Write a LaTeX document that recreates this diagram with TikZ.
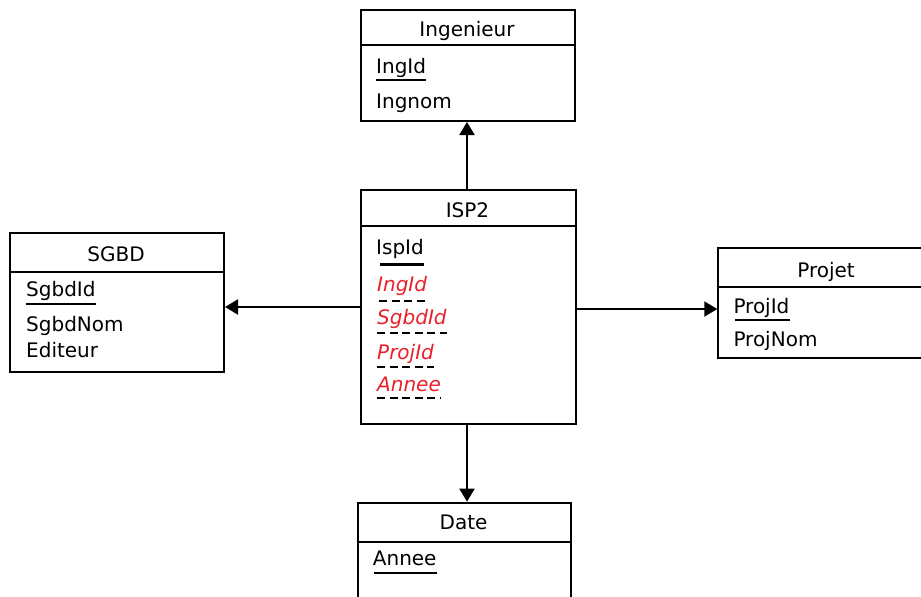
\documentclass[tikz,border=0pt]{standalone}
\usepackage{fontspec}
\setmainfont{DejaVu Sans}
\usepackage{tikz}
\usetikzlibrary{arrows.meta}
\definecolor{fkred}{RGB}{232,32,42}

\begin{document}
\begin{tikzpicture} [
        x = 1pt, y = -1pt,
        entity/.style = { draw, line width = 2pt, anchor = north west, inner sep = 0, minimum width = 214pt },
        divider/.style = { line width = 2pt },
        title/.style = { anchor = base, inner sep = 0, font = \fontsize{20}{24}\selectfont },
        attr/.style = { anchor = base west, inner sep = 0, font = \fontsize{20}{24}\selectfont },
        fkey/.style = { attr, text = fkred, font = \fontsize{20}{24}\selectfont\itshape },
        pkline/.style = { line width = 2pt },
        fkline/.style = { line width = 2pt, dash pattern = on 8pt off 4.5pt },
        link/.style = { line width = 2pt, -{Triangle[length = 13pt, width = 15pt]} }
        ]
        \useasboundingbox (0,0) rectangle (921,597);

        % Ingenieur
        \node [entity, minimum height = 111pt] (ing) at (360,9) {};
        \draw [divider] (ing.west |- 0,45) -- (ing.east |- 0,45);
        \node [title] (ingT) at (467,36.5) {Ingenieur};
        \node [attr] (ingId) at (376,73.3) {IngId};
        \node [attr] (ingNom) at (376,108) {Ingnom};
        \draw [pkline] ([yshift=-7pt]ingId.base west) -- ([yshift=-7pt]ingId.base east);

        % ISP2
        \node [entity, minimum height = 234pt, minimum width = 215pt] (isp) at (360,189) {};
        \draw [divider] (isp.west |- 0,226) -- (isp.east |- 0,226);
        \node [title] (ispT) at (467.5,217) {ISP2};
        \node [attr] (ispId) at (376,254) {IspId};
        \node [fkey] (ispIng) at (377,291) {IngId};
        \node [fkey] (ispSgbd) at (377,324.3) {SgbdId};
        \node [fkey] (ispProj) at (377,359) {ProjId};
        \node [fkey] (ispAnnee) at (377,391.7) {Annee};
        \draw [pkline, line width = 3pt] ([yshift=-10pt]ispId.base west) ++(4,0) -- ([yshift=-10pt]ispId.base east);
        \draw [fkline] ([yshift=-9.7pt]ispIng.base west) ++(2,0) -- ([yshift=-9.7pt]ispIng.base east);
        \draw [fkline] ([yshift=-9pt]ispSgbd.base west) -- ([yshift=-9pt]ispSgbd.base east);
        \draw [fkline] ([yshift=-7.7pt]ispProj.base west) -- ([yshift=-7.7pt]ispProj.base east);
        \draw [fkline] ([yshift=-6.7pt]ispAnnee.base west) -- ([yshift=-6.7pt]ispAnnee.base east);

        % SGBD
        \node [entity, minimum height = 139pt] (sgbd) at (9,232.3) {};
        \draw [divider] (sgbd.west |- 0,271.7) -- (sgbd.east |- 0,271.7);
        \node [title] (sgbdT) at (116,261) {SGBD};
        \node [attr] (sgbdId) at (26,296.7) {SgbdId};
        \node [attr] (sgbdNom) at (26,331.7) {SgbdNom};
        \node [attr] (sgbdEd) at (26,357.3) {Editeur};
        \draw [pkline] ([yshift=-7.6pt]sgbdId.base west) -- ([yshift=-7.6pt]sgbdId.base east);

        % Projet
        \node [entity, minimum height = 110pt] (proj) at (717.3,247.3) {};
        \draw [divider] (proj.west |- 0,287.3) -- (proj.east |- 0,287.3);
        \node [title] (projT) at (826,277) {Projet};
        \node [attr] (projId) at (733.3,313.3) {ProjId};
        \node [attr] (projNom) at (733.3,346) {ProjNom};
        \draw [pkline] ([yshift=-6.7pt]projId.base west) ++(2,0) -- ([yshift=-6.7pt]projId.base east);

        % Date
        \node [entity, minimum height = 100pt, minimum width = 213pt] (date) at (357,501.7) {};
        \draw [divider] (date.west |- 0,541.7) -- (date.east |- 0,541.7);
        \node [title] (dateT) at (463.5,529) {Date};
        \node [attr] (dateAnnee) at (372.7,565) {Annee};
        \draw [pkline] ([yshift=-7.7pt]dateAnnee.base west) ++(1,0) -- ([yshift=-7.7pt]dateAnnee.base east);

        % links
        \draw [link] ([xshift=-1.5pt]isp.north) -- ([xshift=-1.5pt]isp.north |- ing.south);
        \draw [link] (isp.west) -- (isp.west -| sgbd.east);
        \draw [link] ([yshift=-2pt]isp.east) -- ([yshift=-2pt]isp.east -| proj.west);
        \draw [link] ([xshift=-1.5pt]isp.south) -- ([xshift=-1.5pt]isp.south |- date.north);
    \end{tikzpicture}
\end{document}
